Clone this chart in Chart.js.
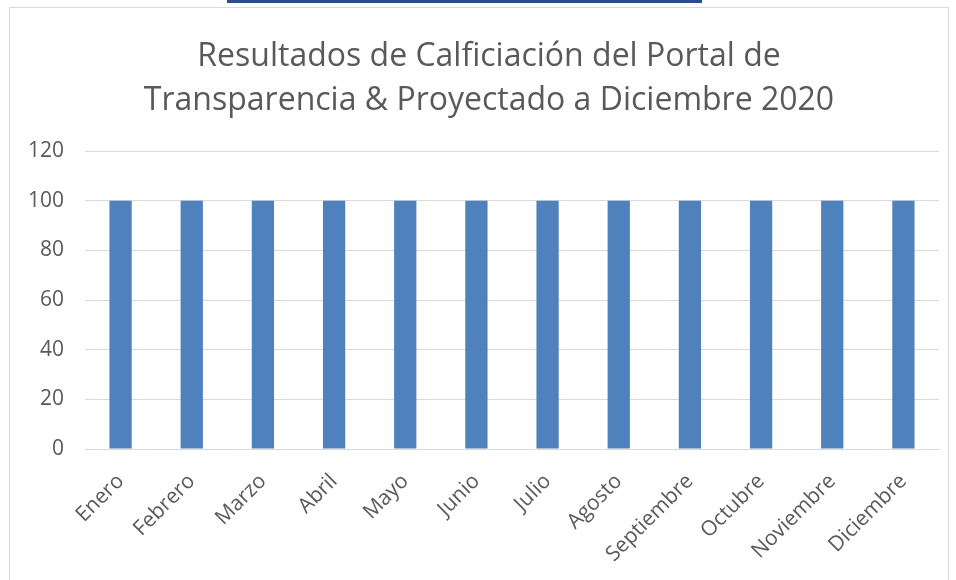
<!DOCTYPE html>
<html>
<head>
<meta charset="utf-8">
<script src="https://cdn.jsdelivr.net/npm/chart.js@4"></script>
<style>
  body { margin: 0; background: #fff; }
  #wrap { position: relative; width: 956px; height: 580px; overflow: hidden; }
  #frame { position: absolute; left: 9px; top: 7px; width: 938px; height: 600px; border: 1px solid #d9d9d9; }
  #topbar { position: absolute; left: 227px; top: 0; width: 475px; height: 3px; background: #264f8c; }
  #c { position: absolute; left: 0; top: 0; }
</style>
</head>
<body>
<div id="wrap">
  <div id="frame"></div>
  <div id="topbar"></div>
  <canvas id="c" width="956" height="580"></canvas>
</div>
<script>
// months and scores
var meses = ["Enero", "Febrero", "Marzo", "Abril", "Mayo", "Junio", "Julio", "Agosto", "Septiembre", "Octubre", "Noviembre", "Diciembre"];
var calificacion = [100, 100, 100, 100, 100, 100, 100, 100, 100, 100, 100, 100];
var titulo = ["Resultados de Calficiación del Portal de", "Transparencia & Proyectado a Diciembre 2020"];

var gris = "#595959";
var fuente = "'Open Sans', sans-serif";

// title drawn a bit right of the canvas centre, like the excel original
var tituloPlugin = {
    id: 'tituloPlugin',
    afterDraw: function (chart) {
        var c = chart.ctx;
        c.save();
        c.fillStyle = gris;
        c.font = "normal 32px " + fuente;
        c.textAlign = "center";
        c.textBaseline = "middle";
        for (var i = 0; i < titulo.length; i++) {
            c.fillText(titulo[i], 489, 56.4 + i * 44.8);
        }
        c.restore();
    }
};

var ctx = document.getElementById('c').getContext('2d');
var grafico = new Chart(ctx, {
    type: 'bar',
    data: {
        labels: meses,
        datasets: [{
            label: "Calificación",
            data: calificacion,
            backgroundColor: "#4f81bd",
            categoryPercentage: 0.313,
            barPercentage: 1
        }]
    },
    options: {
        responsive: false,
        animation: false,
        layout: { padding: { left: 20, right: 17, top: 151, bottom: 0 } },
        plugins: {
            legend: { display: false },
            tooltip: { enabled: false },
            title: { display: false }
        },
        scales: {
            y: {
                min: 0,
                max: 120,
                ticks: { stepSize: 20, color: gris, font: { family: fuente, size: 21 }, padding: 21 },
                grid: { color: "#d9d9d9", drawTicks: false },
                border: { display: false },
                afterFit: function (s) { s.width = 65; }
            },
            x: {
                ticks: { color: gris, font: { family: fuente, size: 21 }, minRotation: 45, maxRotation: 45, padding: 12 },
                grid: { display: false },
                border: { color: "#d9d9d9" },
                afterFit: function (s) { s.height = 131; }
            }
        }
    },
    plugins: [tituloPlugin]
});
</script>
</body>
</html>
